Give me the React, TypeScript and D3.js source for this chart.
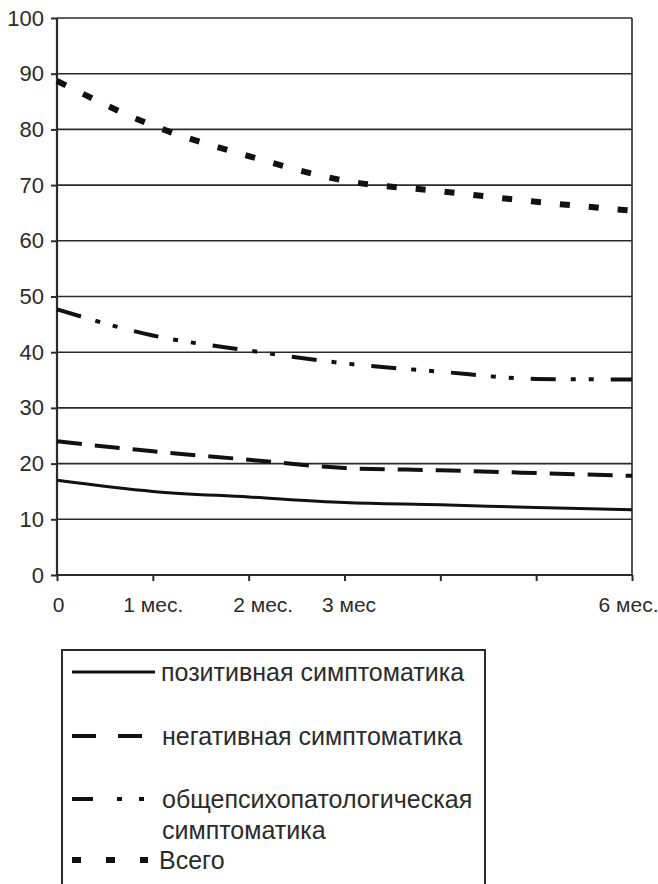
import { useEffect, useRef } from 'react';
import * as d3 from 'd3';

// Подписи оси X (месяцы наблюдения)
const categories = ['0', '1 мес.', '2 мес.', '3 мес', '', '', '6 мес.'];
const yTicks = [0, 10, 20, 30, 40, 50, 60, 70, 80, 90, 100];

// Значения рядов
const positive = [17, 15, 14, 13, 12.6, 12.1, 11.7];
const negative = [24, 22.2, 20.7, 19.2, 18.8, 18.3, 17.8];
const general = [47.7, 43, 40.3, 38, 36.5, 35.2, 35.1];
const total = [88.7, 80.7, 75.2, 70.8, 68.9, 67.0, 65.4];

const seriesNames = [
    ['позитивная симптоматика'],
    ['негативная симптоматика'],
    ['общепсихопатологическая', 'симптоматика'],
    ['Всего'],
];

const FONT = '"Liberation Sans", Arial, sans-serif';
const INK = '#2b2b2b';

export default function App() {
    const svgRef = useRef<SVGSVGElement>(null);

    useEffect(() => {
        if (!svgRef.current) return;
        const svg = d3.select(svgRef.current);
        svg.selectAll('*').remove();

        const left = 57, right = 632, top = 18, bottom = 575;

        const x = d3.scalePoint<number>().domain(categories.map((_, i) => i)).range([left, right]);
        const y = d3.scaleLinear().domain([0, 100]).range([bottom, top]);

        // сетка
        svg.append('g')
            .selectAll('line')
            .data(yTicks.filter(t => t > 0))
            .enter().append('line')
            .attr('x1', left).attr('x2', right)
            .attr('y1', d => y(d)).attr('y2', d => y(d))
            .attr('stroke', INK).attr('stroke-width', 1.6);

        // правая рамка
        svg.append('line')
            .attr('x1', right).attr('x2', right)
            .attr('y1', top).attr('y2', bottom)
            .attr('stroke', INK).attr('stroke-width', 1.6);

        // ось Y
        const yAxis = svg.append('g')
            .attr('transform', `translate(${left},0)`)
            .call(d3.axisLeft(y).tickValues(yTicks).tickSize(6).tickPadding(7).tickFormat(d3.format('d')));
        yAxis.select('.domain').attr('stroke', INK).attr('stroke-width', 2.2).attr('d', `M0,${top}V${bottom}`);
        yAxis.selectAll('.tick line').attr('stroke', INK).attr('stroke-width', 2);
        yAxis.selectAll('.tick text')
            .attr('font-family', FONT).attr('font-size', 22).attr('fill', INK);

        // ось X (подписи в оригинале слегка сдвинуты вправо)
        const labelShift = [1, 0, 14, 4, 0, 0, -4];
        const xAxis = svg.append('g')
            .attr('transform', `translate(0,${bottom})`)
            .call(d3.axisBottom(x).tickSize(6).tickPadding(16).tickFormat(i => categories[i as number]));
        xAxis.select('.domain').attr('stroke', INK).attr('stroke-width', 2.2).attr('d', `M${left},0H${right}`);
        xAxis.selectAll('.tick line').attr('stroke', INK).attr('stroke-width', 2);
        xAxis.selectAll<SVGTextElement, number>('.tick text')
            .attr('font-family', FONT).attr('font-size', 21).attr('fill', INK)
            .attr('dx', d => labelShift[d]);

        const line = d3.line<number>()
            .x((_, i) => x(i) as number)
            .y(d => y(d))
            .curve(d3.curveMonotoneX);

        const series = [
            { data: positive, dash: null, width: 3 },
            { data: negative, dash: '25,13', width: 4 },
            { data: general, dash: '25,15,5,13,5,17', width: 4 },
            { data: total, dash: '10,19', width: 6 },
        ];

        series.forEach(s => {
            svg.append('path')
                .datum(s.data)
                .attr('fill', 'none')
                .attr('stroke', '#111')
                .attr('stroke-width', s.width)
                .attr('stroke-dasharray', s.dash)
                .attr('d', line);
        });

        // легенда
        const lg = svg.append('g');
        lg.append('path')
            .attr('d', 'M62,900V650H485V900')
            .attr('fill', 'none').attr('stroke', INK).attr('stroke-width', 2);

        const legendRows = [
            { y: 672, dash: null, width: 3, x2: 155, tx: 161 },
            { y: 736, dash: '24,22', width: 4, x2: 146, tx: 162 },
            { y: 799, dash: '21,24,5,17,5', width: 4, x2: 147, tx: 162 },
            { y: 860, dash: '9,25', width: 6, x2: 148, tx: 159 },
        ];

        legendRows.forEach((r, i) => {
            lg.append('line')
                .attr('x1', 72).attr('x2', r.x2)
                .attr('y1', r.y).attr('y2', r.y)
                .attr('stroke', '#111')
                .attr('stroke-width', r.width)
                .attr('stroke-dasharray', r.dash);
            const t = lg.append('text')
                .attr('font-family', FONT).attr('font-size', 25).attr('fill', INK);
            seriesNames[i].forEach((txt, k) => {
                t.append('tspan')
                    .attr('x', r.tx)
                    .attr('y', r.y + k * 31)
                    .attr('dy', '0.35em')
                    .text(txt);
            });
        });
    }, []);

    return (
        <svg
            ref={svgRef}
            width={658}
            height={884}
            style={{ position: 'absolute', left: 0, top: 0, background: '#fff' }}
        />
    );
}
